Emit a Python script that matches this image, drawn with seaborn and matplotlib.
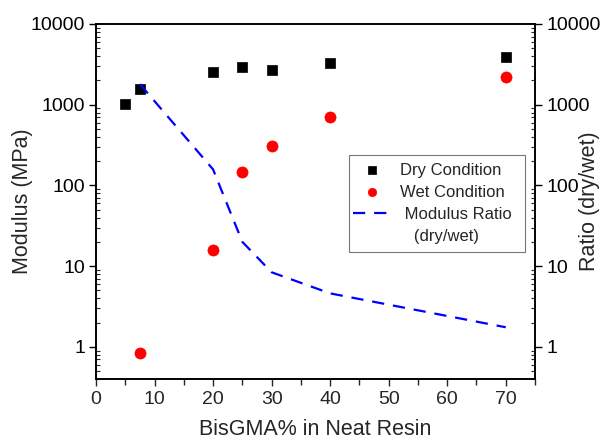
import numpy as np
import pandas as pd
import matplotlib
matplotlib.use("Agg")
import matplotlib.pyplot as plt
import seaborn as sns
from matplotlib.lines import Line2D
from matplotlib.ticker import LogLocator, FixedLocator, NullFormatter

# values
bisgma_dry = [5, 7.5, 20, 25, 30, 40, 70]
modulus_dry = [1030, 1550, 2520, 2920, 2680, 3250, 3900]
bisgma_wet = [7.5, 20, 25, 30, 40, 70]
modulus_wet = [0.83, 16, 147, 307, 700, 2200]
bisgma_ratio = [7.5, 20, 25, 30, 40, 70]
ratio = [1800, 158, 20, 8.4, 4.6, 1.75]

sns.set_style("ticks")
plt.rcParams["font.family"] = ["Liberation Sans", "DejaVu Sans"]

W, H = 602, 441
fig = plt.figure(figsize=(W / 100, H / 100), dpi=100)
ax = fig.add_axes([96 / W, 1 - 379 / H, 439 / W, 355 / H])
ax2 = ax.twinx()

dry = pd.DataFrame({"x": bisgma_dry, "y": modulus_dry})
wet = pd.DataFrame({"x": bisgma_wet, "y": modulus_wet})
rat = pd.DataFrame({"x": bisgma_ratio, "y": ratio})

sns.scatterplot(data=dry, x="x", y="y", ax=ax, marker="s", s=52, color="black",
                edgecolor="black", linewidth=0.5, label="Dry Condition", legend=False)
sns.scatterplot(data=wet, x="x", y="y", ax=ax, marker="o", s=64, color="#ff0000",
                edgecolor="#ff0000", linewidth=0.5, label="Wet Condition", legend=False)
sns.lineplot(data=rat, x="x", y="y", ax=ax2, color="#0000ff", linewidth=1.6,
             dashes=False, label=" Modulus Ratio  ", legend=False)
ax2.lines[0].set_dashes((5.5, 4))

for a in (ax, ax2):
    a.set_yscale("log")
    a.set_ylim(0.4, 10000)
    a.yaxis.set_major_locator(FixedLocator([1, 10, 100, 1000, 10000]))
    a.yaxis.set_minor_locator(LogLocator(base=10, subs=np.arange(2, 10)))
    a.yaxis.set_minor_formatter(NullFormatter())
    a.tick_params(axis="y", which="major", direction="out", length=5, width=1,
                  labelsize=14, colors="black", pad=3)
    a.tick_params(axis="y", which="minor", direction="in", length=3, width=0.8)
    for s in a.spines.values():
        s.set_visible(True)
        s.set_linewidth(1.2)
        s.set_color("black")

ax.set_yticklabels(["1", "10", "100", "1000", "10000"])
ax2.set_yticklabels(["1", "10", "100", "1000", "10000"])

ax.set_xlim(0, 75)
ax.set_xticks(np.arange(0, 71, 10))
ax.set_xticks(np.arange(5, 76, 10), minor=True)
ax.tick_params(axis="x", which="major", direction="out", length=5, width=1,
               labelsize=14, pad=4)
ax.tick_params(axis="x", which="minor", direction="out", length=4, width=1)

ax.set_xlabel("BisGMA% in Neat Resin", fontsize=15.5)
ax.xaxis.set_label_coords(0.5, -0.113)
ax.set_ylabel("Modulus (MPa)", fontsize=15.5)
ax.yaxis.set_label_coords(-0.1435, 0.5)
ax2.set_ylabel("Ratio (dry/wet)", fontsize=15.5)
ax2.yaxis.set_label_coords(1.1, 0.5)
ax2.set_xlabel("")

# second line of the ratio label as its own legend row with no handle
h1, l1 = ax.get_legend_handles_labels()
h2, l2 = ax2.get_legend_handles_labels()
blank = Line2D([], [], linestyle="none")
leg = ax2.legend(h1 + h2 + [blank], l1 + l2 + ["   (dry/wet)"], loc="upper left",
                 bbox_to_anchor=(351.5 / W, 1 - 161 / H), bbox_transform=fig.transFigure,
                 fontsize=12, frameon=True, fancybox=False, edgecolor="#555555",
                 borderpad=0.1, borderaxespad=0, handlelength=2.2, labelspacing=0.42,
                 handletextpad=0.6, markerscale=0.75)
frame = leg.get_frame()
frame.set_linewidth(0.8)
frame.set_boxstyle("square", pad=0.15)
frame.set_mutation_aspect(2.6)

fig.savefig("out.png", dpi=100)
